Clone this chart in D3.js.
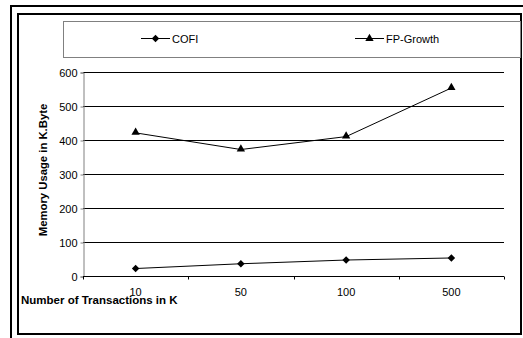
<!DOCTYPE html>
<html>
<head>
    <title>Memory Usage</title>
    <script src="https://cdn.jsdelivr.net/npm/d3@7"></script>
    <style>
        body { margin: 0; background: #fff; }
        svg text { font-family: Arial, "Liberation Sans", sans-serif; }
    </style>
</head>
<body>
<svg id="chart" width="523" height="338"></svg>
<script>
    // data
    const categories = ["10", "50", "100", "500"];
    const cofi = [22, 36, 47, 53];
    const fpGrowth = [421, 372, 410, 553];
    const yTicks = [0, 100, 200, 300, 400, 500, 600];

    const svg = d3.select('#chart');

    // outer and inner frames
    svg.append("rect")
        .attr("x", 11).attr("y", 6)
        .attr("width", 530).attr("height", 350)
        .attr("fill", "none").attr("stroke", "#000").attr("stroke-width", 2);
    svg.append("rect")
        .attr("x", 18).attr("y", 14)
        .attr("width", 503).attr("height", 320)
        .attr("fill", "#fff").attr("stroke", "#000").attr("stroke-width", 2);

    const x = d3.scaleBand().domain(categories).range([83, 504]);
    const y = d3.scaleLinear().domain([0, 600]).range([276, 72]);

    // gridlines
    svg.append("g")
        .selectAll("line")
        .data(yTicks.slice(1))
        .join("line")
        .attr("x1", 83).attr("x2", 504)
        .attr("y1", d => y(d) + 0.5).attr("y2", d => y(d) + 0.5)
        .attr("stroke", "#000").attr("stroke-width", 1);

    // y axis
    const yAxis = svg.append("g")
        .attr("transform", "translate(83.5,0.5)")
        .call(d3.axisLeft(y).tickValues(yTicks).tickSize(3).tickPadding(3));
    yAxis.select(".domain").attr("stroke", "#808080");
    yAxis.selectAll(".tick line").attr("stroke", "#808080");
    yAxis.selectAll("text").attr("font-size", "11px").attr("fill", "#000")
        .attr("font-family", "Arial, 'Liberation Sans', sans-serif");

    // x axis: ticks between categories, labels centered
    const xAxis = svg.append("g")
        .attr("transform", "translate(0,276.5)");
    xAxis.append("line")
        .attr("x1", 83).attr("x2", 504)
        .attr("stroke", "#000");
    const edges = categories.map(c => x(c)).concat([x.range()[1]]);
    xAxis.selectAll("line.tk")
        .data(edges)
        .join("line")
        .attr("class", "tk")
        .attr("x1", d => Math.round(d) + 0.5).attr("x2", d => Math.round(d) + 0.5)
        .attr("y1", 0).attr("y2", 3)
        .attr("stroke", "#000");
    xAxis.selectAll("text")
        .data(categories)
        .join("text")
        .attr("x", d => x(d) + x.bandwidth() / 2)
        .attr("y", 19)
        .attr("text-anchor", "middle")
        .attr("font-size", "11px")
        .text(d => d);

    // series
    const line = d3.line()
        .x((d, i) => x(categories[i]) + x.bandwidth() / 2)
        .y(d => y(d));

    svg.append("path").datum(cofi)
        .attr("d", line).attr("fill", "none").attr("stroke", "#000").attr("stroke-width", 1);
    svg.append("path").datum(fpGrowth)
        .attr("d", line).attr("fill", "none").attr("stroke", "#000").attr("stroke-width", 1);

    const diamond = d3.symbol().type(d3.symbolDiamond2).size(36);
    const triangle = d3.symbol().type(d3.symbolTriangle).size(30);

    svg.selectAll("path.cofi-dot")
        .data(cofi)
        .join("path")
        .attr("class", "cofi-dot")
        .attr("transform", (d, i) => `translate(${x(categories[i]) + x.bandwidth() / 2},${y(d)})`)
        .attr("d", diamond)
        .attr("fill", "#000");
    svg.selectAll("path.fp-dot")
        .data(fpGrowth)
        .join("path")
        .attr("class", "fp-dot")
        .attr("transform", (d, i) => `translate(${x(categories[i]) + x.bandwidth() / 2},${y(d) - 0.5})`)
        .attr("d", triangle)
        .attr("fill", "#000");

    // axis titles
    svg.append("text")
        .attr("x", 21).attr("y", 304)
        .attr("font-size", "11.5px").attr("font-weight", "bold")
        .text("Number of Transactions in K");
    svg.append("text")
        .attr("transform", "translate(47,170) rotate(-90)")
        .attr("text-anchor", "middle")
        .attr("font-size", "11.3px").attr("font-weight", "bold")
        .text("Memory Usage in K.Byte");

    // legend
    const legend = svg.append("g").attr("class", "legend");
    legend.append("rect")
        .attr("x", 63.5).attr("y", 21.5)
        .attr("width", 457).attr("height", 36)
        .attr("fill", "#fff").attr("stroke", "#808080").attr("stroke-width", 1);

    const legendItems = [
        {name: "COFI", x: 141, symbol: diamond},
        {name: "FP-Growth", x: 355, symbol: triangle}
    ];
    legendItems.forEach(item => {
        legend.append("line")
            .attr("x1", item.x).attr("x2", item.x + 29)
            .attr("y1", 38.5).attr("y2", 38.5)
            .attr("stroke", "#000");
        legend.append("path")
            .attr("transform", `translate(${item.x + 14.5},38.5)`)
            .attr("d", item.symbol)
            .attr("fill", "#000");
        legend.append("text")
            .attr("x", item.x + 31).attr("y", 42.5)
            .attr("font-size", "11px")
            .text(item.name);
    });
</script>
</body>
</html>
